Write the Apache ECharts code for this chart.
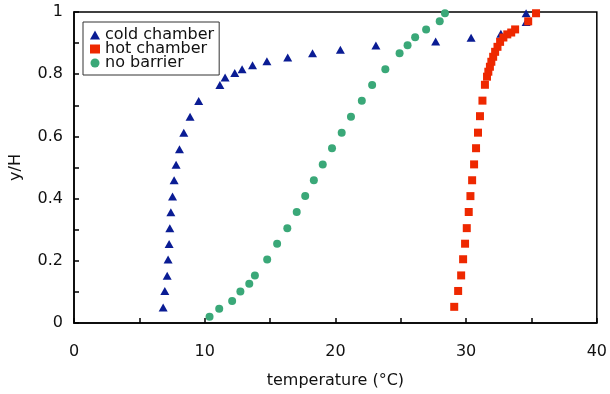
<!DOCTYPE html>
<html>
<head>
<meta charset="utf-8">
<script src="https://cdn.jsdelivr.net/npm/echarts@6/dist/echarts.min.js"></script>
<style>
  html, body { margin: 0; padding: 0; background: #fff; }
  #chart { width: 610px; height: 394px; }
</style>
</head>
<body>
<div id="chart"></div>
<script>
// temperature (°C), y/H pairs
const coldChamber = [
  [6.82, 0.050], [6.95, 0.103], [7.13, 0.152], [7.20, 0.204], [7.28, 0.254],
  [7.33, 0.305], [7.41, 0.356], [7.54, 0.407], [7.66, 0.459], [7.81, 0.509],
  [8.07, 0.559], [8.40, 0.612], [8.88, 0.663], [9.54, 0.714], [11.16, 0.765],
  [11.56, 0.789], [12.30, 0.804], [12.86, 0.816], [13.66, 0.829], [14.76, 0.842],
  [16.35, 0.854], [18.25, 0.867], [20.38, 0.879], [23.10, 0.892], [27.67, 0.905],
  [30.38, 0.917], [32.66, 0.930], [34.59, 0.968], [34.59, 0.996]
]
const hotChamber = [
  [29.09, 0.052], [29.39, 0.103], [29.62, 0.153], [29.77, 0.205], [29.92, 0.255],
  [30.05, 0.305], [30.20, 0.357], [30.33, 0.408], [30.46, 0.459], [30.61, 0.510],
  [30.76, 0.562], [30.91, 0.612], [31.06, 0.665], [31.25, 0.715], [31.44, 0.766],
  [31.60, 0.792], [31.70, 0.808], [31.82, 0.824], [31.93, 0.840], [32.07, 0.856],
  [32.22, 0.872], [32.40, 0.888], [32.60, 0.904], [32.85, 0.918], [33.15, 0.928],
  [33.45, 0.934], [33.75, 0.944], [34.75, 0.970], [35.35, 0.996]
]
const noBarrier = [
  [10.37, 0.020], [11.11, 0.046], [12.10, 0.071], [12.73, 0.101], [13.41, 0.126],
  [13.84, 0.153], [14.78, 0.204], [15.54, 0.255], [16.32, 0.305], [17.04, 0.357],
  [17.69, 0.408], [18.35, 0.459], [19.03, 0.510], [19.74, 0.562], [20.48, 0.612],
  [21.19, 0.663], [22.02, 0.715], [22.81, 0.765], [23.82, 0.816], [24.91, 0.867],
  [25.52, 0.893], [26.10, 0.919], [26.94, 0.944], [27.98, 0.970], [28.38, 0.996]
]
const seriesNames = ['cold chamber', 'hot chamber', 'no barrier']

const font = 'DejaVu Sans, Verdana, sans-serif'
const chart = echarts.init(document.getElementById('chart'))

chart.setOption({
  animation: false,
  textStyle: { fontFamily: font },
  grid: {
    left: 72.5,
    right: 11,
    top: 12,
    bottom: 71,
    show: true,
    borderColor: '#000',
    borderWidth: 1.5
  },
  legend: {
    orient: 'vertical',
    left: 83,
    top: 22,
    padding: [5, 5, 4, 7],
    itemGap: -2,
    itemWidth: 10,
    itemHeight: 9,
    backgroundColor: '#fff',
    borderColor: '#333',
    borderWidth: 1,
    borderRadius: 0,
    textStyle: { fontSize: 16, color: '#111', fontFamily: font },
    data: seriesNames
  },
  xAxis: {
    type: 'value',
    min: 0,
    max: 40,
    interval: 5,
    name: 'temperature (°C)',
    nameLocation: 'middle',
    nameGap: 50,
    nameTextStyle: { fontSize: 16, color: '#111' },
    axisLine: { lineStyle: { color: '#000', width: 1.5 } },
    axisTick: { inside: true, length: 5, lineStyle: { color: '#000', width: 1.5 } },
    axisLabel: {
      fontSize: 16,
      color: '#111',
      margin: 21,
      formatter: v => (Math.round(v) % 10 === 0 ? String(Math.round(v)) : '')
    },
    splitLine: { show: false }
  },
  yAxis: {
    type: 'value',
    min: 0,
    max: 1,
    interval: 0.1,
    name: 'y/H',
    nameLocation: 'middle',
    nameGap: 50,
    nameTextStyle: { fontSize: 16, color: '#111' },
    axisLine: { show: true, lineStyle: { color: '#000', width: 1.5 } },
    axisTick: { show: true, inside: true, length: 5, lineStyle: { color: '#000', width: 1.5 } },
    axisLabel: {
      fontSize: 16,
      color: '#111',
      margin: 11,
      formatter: v => {
        const k = Math.round(v * 10)
        return k % 2 === 0 ? String(k / 10) : ''
      }
    },
    splitLine: { show: false }
  },
  series: [
    {
      name: seriesNames[0],
      type: 'scatter',
      symbol: 'triangle',
      symbolSize: [9, 8],
      itemStyle: { color: '#0a1c94', opacity: 1 },
      data: coldChamber
    },
    {
      name: seriesNames[1],
      type: 'scatter',
      symbol: 'rect',
      symbolSize: 8,
      itemStyle: { color: '#ee2800', opacity: 1 },
      data: hotChamber
    },
    {
      name: seriesNames[2],
      type: 'scatter',
      symbol: 'circle',
      symbolSize: 8,
      itemStyle: { color: '#3aa878', opacity: 1 },
      data: noBarrier
    }
  ]
})
</script>
</body>
</html>
